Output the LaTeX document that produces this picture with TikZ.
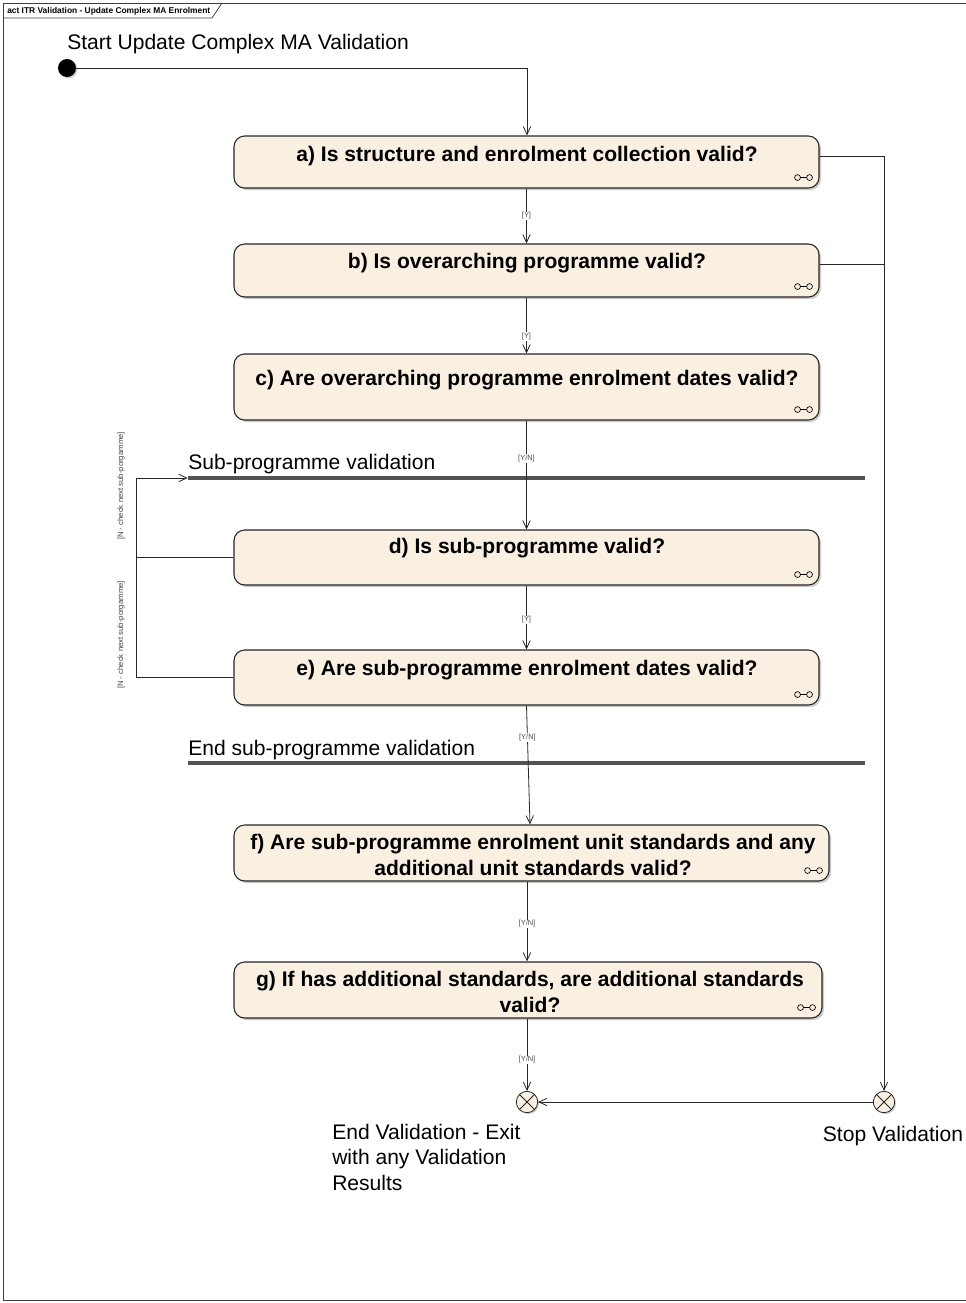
\documentclass[tikz,border=0pt]{standalone}
\usepackage{fontspec}
\setmainfont{Liberation Sans}
\usetikzlibrary{arrows.meta,shadows,fit,calc}
\definecolor{actfill}{RGB}{250,240,226}
\newcommand{\subact}[1]{%
  \draw[line width=0.5pt] ($(#1.south east)+(-22,-11)$) circle[radius=2.2pt]
    ($(#1.south east)+(-19,-11)$) -- ($(#1.south east)+(-13,-11)$)
    ($(#1.south east)+(-10,-11)$) circle[radius=2.2pt];}
\begin{document}
\begin{tikzpicture}[x=0.75pt,y=-0.75pt,
  actbox/.style={draw=black!85, fill=actfill, rounded corners=8pt, line width=0.8pt, inner sep=0pt,
    drop shadow={shadow xshift=1.5pt, shadow yshift=-1.5pt, opacity=0.35, fill=black!60}},
  acttext/.style={font=\fontsize{15.8}{19.5}\selectfont\bfseries, align=center, inner sep=0pt},
  flow/.style={draw=black!85, line width=0.6pt, -{Straight Barb[length=6pt,width=5.5pt]}},
  plain/.style={draw=black!85, line width=0.6pt},
  guard/.style={font=\fontsize{5.6}{6}\selectfont, text=black!70, fill=white, inner sep=0.6pt},
  sideguard/.style={font=\fontsize{5.8}{6}\selectfont, text=black!75, inner sep=0pt, rotate=90},
  bigtext/.style={font=\fontsize{15.8}{19}\selectfont, inner sep=0pt},
  barnode/.style={fill=black!68, inner sep=0pt},
  final/.style={circle, draw=black!85, fill=actfill, minimum size=16pt, inner sep=0pt, line width=0.6pt,
    drop shadow={shadow xshift=1pt, shadow yshift=-1pt, opacity=0.35, fill=black!60}},
]
\useasboundingbox (0,0) rectangle (966,1303);
% frame
\draw[black!75, line width=0.6pt] (966,3) -- (3,3) -- (3,1300) -- (966,1300);
\draw[black!75, line width=0.6pt] (3,18) -- (212,18) -- (222,3);
\node[anchor=west, inner sep=0pt, font=\fontsize{6.3}{7}\selectfont\bfseries] (title) at (7,11) {act ITR Validation - Update Complex MA Enrolment};

% start
\node[circle, fill=black, minimum size=13.5pt, inner sep=0pt,
  drop shadow={shadow xshift=1pt, shadow yshift=-1pt, opacity=0.35, fill=black!60}] (start) at (67,68) {};
\node[bigtext, anchor=base west] (startlbl) at (67,49) {Start Update Complex MA Validation};
\coordinate (s1) at (527,68);

% actions
\node[actbox, fit={(234,136)(819,188)}] (a) {};
\node[acttext] (at) at (527,156) {a) Is structure and enrolment collection valid?};
\subact{a}
\node[actbox, fit={(234,244)(819,297)}] (b) {};
\node[acttext] (bt) at (527,263) {b) Is overarching programme valid?};
\subact{b}
\node[actbox, fit={(234,354)(819,420)}] (c) {};
\node[acttext] (ct) at (527,380) {c) Are overarching programme enrolment dates valid?};
\subact{c}
\node[actbox, fit={(234,530)(819,585)}] (d) {};
\node[acttext] (dt) at (527,548) {d) Is sub-programme valid?};
\subact{d}
\node[actbox, fit={(234,650)(819,705)}] (e) {};
\node[acttext] (et) at (527,670) {e) Are sub-programme enrolment dates valid?};
\subact{e}
\node[actbox, fit={(234,825)(829,881)}] (f) {};
\node[acttext] (ft) at (533,855) {f) Are sub-programme enrolment unit standards and any\\additional unit standards valid?};
\subact{f}
\node[actbox, fit={(234,962)(822,1018)}] (g) {};
\node[acttext] (gt) at (530,992) {g) If has additional standards, are additional standards\\valid?};
\subact{g}

% fork / join bars
\node[barnode, fit={(188,476)(865,480)}] (fork) {};
\node[bigtext, anchor=base west] (forklbl) at (188,469) {Sub-programme validation};
\node[barnode, fit={(188,761)(865,765)}] (join) {};
\node[bigtext, anchor=base west] (joinlbl) at (188,755) {End sub-programme validation};

% final nodes
\node[final] (end) at (527,1102) {};
\draw[black!85, line width=0.6pt] (end.45) -- (end.225) (end.135) -- (end.315);
\node[final] (stop) at (884,1102) {};
\draw[black!85, line width=0.6pt] (stop.45) -- (stop.225) (stop.135) -- (stop.315);
\node[bigtext, anchor=base] (stoplbl) at (893,1141) {Stop Validation};
\node[bigtext, anchor=north west, align=left] (endlbl) at (332,1124) {End Validation - Exit\\with any Validation\\Results};

% connectors
\coordinate (fx) at (530,825);
\draw[flow] (start) -- (s1) -- (s1 |- a.north);
\draw[flow] (a) -- node[guard, pos=0.5] {[Y]} (b);
\draw[flow] (b) -- node[guard, pos=0.7] {[Y]} (c);
\draw[flow] (c) -- node[guard, pos=0.35] {[Y/N]} (d);
\draw[flow] (d) -- node[guard, pos=0.54] {[Y]} (e);
\draw[flow] (e.south) -- node[guard, pos=0.27] {[Y/N]} (f.north -| fx);
\draw[flow] (f.south -| end) -- node[guard, pos=0.53] {[Y/N]} (g.north -| end);
\draw[flow] (g.south -| end) -- node[guard, pos=0.57] {[Y/N]} (end);

\coordinate (ra) at ($(a.east)+(0,-6)$);
\coordinate (rb) at ($(b.east)+(0,-6)$);
\draw[flow] (ra) -| (stop);
\draw[plain] (rb) -- (rb -| stop);
\draw[flow] (stop) -- (end);

\coordinate (lx) at (136,478);
\draw[flow] (d.west) -- (d.west -| lx) |- (fork.west);
\draw[plain] (e.west) -- (e.west -| lx) -- (d.west -| lx);
\node[sideguard] (n1) at (121,486) {[N - check next sub-porgamme]};
\node[sideguard] (n2) at (121,635) {[N - check next sub-porgamme]};
\end{tikzpicture}
\end{document}
